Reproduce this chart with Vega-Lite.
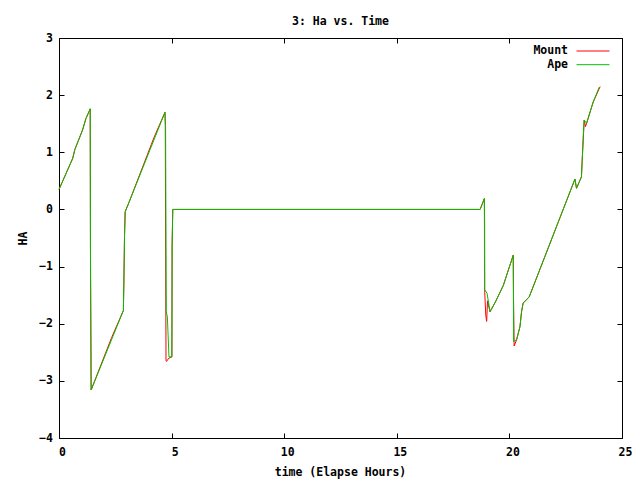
{
  "$schema": "https://vega.github.io/schema/vega-lite/v6.json",
  "width": 563,
  "height": 400,
  "autosize": {"type": "none"},
  "padding": {"left": 59, "top": 38, "right": 18, "bottom": 42},
  "background": "white",
  "title": {
    "text": "3: Ha vs. Time",
    "anchor": "middle",
    "frame": "group",
    "offset": -4,
    "baseline": "alphabetic",
    "font": "DejaVu Sans Mono",
    "fontSize": 11.5,
    "fontWeight": "bold",
    "color": "black"
  },
  "config": {
    "view": {"stroke": "black", "strokeWidth": 1},
    "axis": {
      "domain": false,
      "grid": false,
      "ticks": true,
      "tickSize": -5,
      "tickColor": "black",
      "tickWidth": 1,
      "labelFlush": false,
      "labelFont": "DejaVu Sans Mono",
      "labelFontSize": 11.5,
      "labelFontWeight": "bold",
      "labelColor": "black",
      "titleFont": "DejaVu Sans Mono",
      "titleFontSize": 11.5,
      "titleFontWeight": "bold",
      "titleColor": "black"
    },
    "legend": {
      "labelFont": "DejaVu Sans Mono",
      "labelFontSize": 11.5,
      "labelFontWeight": "bold",
      "labelColor": "black"
    }
  },
  "datasets": {
    "ha": [
      {"series": "Mount", "i": 0, "t": 0, "ha": 0.35},
      {"series": "Mount", "i": 1, "t": 0.605, "ha": 0.89},
      {"series": "Mount", "i": 2, "t": 0.705, "ha": 1.05},
      {"series": "Mount", "i": 3, "t": 1.046, "ha": 1.39},
      {"series": "Mount", "i": 4, "t": 1.196, "ha": 1.59},
      {"series": "Mount", "i": 5, "t": 1.386, "ha": 1.76},
      {"series": "Mount", "i": 6, "t": 1.397, "ha": -0.7},
      {"series": "Mount", "i": 7, "t": 1.427, "ha": -3.16},
      {"series": "Mount", "i": 8, "t": 2.339, "ha": -2.24},
      {"series": "Mount", "i": 9, "t": 2.859, "ha": -1.77},
      {"series": "Mount", "i": 10, "t": 2.879, "ha": -1.32},
      {"series": "Mount", "i": 11, "t": 2.909, "ha": -0.48},
      {"series": "Mount", "i": 12, "t": 2.939, "ha": -0.04},
      {"series": "Mount", "i": 13, "t": 3.12, "ha": 0.135},
      {"series": "Mount", "i": 14, "t": 4.22, "ha": 1.26},
      {"series": "Mount", "i": 15, "t": 4.706, "ha": 1.7},
      {"series": "Mount", "i": 16, "t": 4.72, "ha": 1.46},
      {"series": "Mount", "i": 17, "t": 4.74, "ha": -1.2},
      {"series": "Mount", "i": 18, "t": 4.752, "ha": -2.64},
      {"series": "Mount", "i": 19, "t": 4.772, "ha": -2.66},
      {"series": "Mount", "i": 20, "t": 4.883, "ha": -2.6},
      {"series": "Mount", "i": 21, "t": 5.013, "ha": -2.58},
      {"series": "Mount", "i": 22, "t": 5.023, "ha": -0.62},
      {"series": "Mount", "i": 23, "t": 5.053, "ha": 0.0},
      {"series": "Mount", "i": 24, "t": 18.7, "ha": 0.0},
      {"series": "Mount", "i": 25, "t": 18.888, "ha": 0.19},
      {"series": "Mount", "i": 26, "t": 18.9, "ha": -0.25},
      {"series": "Mount", "i": 27, "t": 18.905, "ha": -1.45},
      {"series": "Mount", "i": 28, "t": 18.95, "ha": -1.85},
      {"series": "Mount", "i": 29, "t": 18.99, "ha": -1.96},
      {"series": "Mount", "i": 30, "t": 19.03, "ha": -1.6},
      {"series": "Mount", "i": 31, "t": 19.138, "ha": -1.79},
      {"series": "Mount", "i": 32, "t": 19.379, "ha": -1.62},
      {"series": "Mount", "i": 33, "t": 19.73, "ha": -1.33},
      {"series": "Mount", "i": 34, "t": 20.17, "ha": -0.8},
      {"series": "Mount", "i": 35, "t": 20.18, "ha": -1.45},
      {"series": "Mount", "i": 36, "t": 20.2, "ha": -2.05},
      {"series": "Mount", "i": 37, "t": 20.21, "ha": -2.39},
      {"series": "Mount", "i": 38, "t": 20.32, "ha": -2.28},
      {"series": "Mount", "i": 39, "t": 20.47, "ha": -2.05},
      {"series": "Mount", "i": 40, "t": 20.54, "ha": -1.79},
      {"series": "Mount", "i": 41, "t": 20.61, "ha": -1.64},
      {"series": "Mount", "i": 42, "t": 20.88, "ha": -1.53},
      {"series": "Mount", "i": 43, "t": 22.91, "ha": 0.53},
      {"series": "Mount", "i": 44, "t": 22.98, "ha": 0.37},
      {"series": "Mount", "i": 45, "t": 23.2, "ha": 0.57},
      {"series": "Mount", "i": 46, "t": 23.23, "ha": 0.84},
      {"series": "Mount", "i": 47, "t": 23.28, "ha": 1.22},
      {"series": "Mount", "i": 48, "t": 23.32, "ha": 1.56},
      {"series": "Mount", "i": 49, "t": 23.38, "ha": 1.45},
      {"series": "Mount", "i": 50, "t": 23.43, "ha": 1.51},
      {"series": "Mount", "i": 51, "t": 23.72, "ha": 1.88},
      {"series": "Mount", "i": 52, "t": 24.03, "ha": 2.15},
      {"series": "Ape", "i": 0, "t": 0, "ha": 0.35},
      {"series": "Ape", "i": 1, "t": 0.605, "ha": 0.89},
      {"series": "Ape", "i": 2, "t": 0.705, "ha": 1.05},
      {"series": "Ape", "i": 3, "t": 1.046, "ha": 1.39},
      {"series": "Ape", "i": 4, "t": 1.196, "ha": 1.59},
      {"series": "Ape", "i": 5, "t": 1.386, "ha": 1.76},
      {"series": "Ape", "i": 6, "t": 1.397, "ha": -0.7},
      {"series": "Ape", "i": 7, "t": 1.427, "ha": -3.16},
      {"series": "Ape", "i": 8, "t": 2.859, "ha": -1.77},
      {"series": "Ape", "i": 9, "t": 2.879, "ha": -1.32},
      {"series": "Ape", "i": 10, "t": 2.909, "ha": -0.48},
      {"series": "Ape", "i": 11, "t": 2.939, "ha": -0.04},
      {"series": "Ape", "i": 12, "t": 3.12, "ha": 0.135},
      {"series": "Ape", "i": 13, "t": 4.706, "ha": 1.7},
      {"series": "Ape", "i": 14, "t": 4.732, "ha": 1.45},
      {"series": "Ape", "i": 15, "t": 4.762, "ha": -1.79},
      {"series": "Ape", "i": 16, "t": 4.812, "ha": -1.88},
      {"series": "Ape", "i": 17, "t": 4.883, "ha": -2.58},
      {"series": "Ape", "i": 18, "t": 5.013, "ha": -2.58},
      {"series": "Ape", "i": 19, "t": 5.023, "ha": -0.62},
      {"series": "Ape", "i": 20, "t": 5.053, "ha": 0.0},
      {"series": "Ape", "i": 21, "t": 18.7, "ha": 0.0},
      {"series": "Ape", "i": 22, "t": 18.888, "ha": 0.19},
      {"series": "Ape", "i": 23, "t": 18.898, "ha": -1.4},
      {"series": "Ape", "i": 24, "t": 19.009, "ha": -1.47},
      {"series": "Ape", "i": 25, "t": 19.138, "ha": -1.79},
      {"series": "Ape", "i": 26, "t": 19.379, "ha": -1.62},
      {"series": "Ape", "i": 27, "t": 19.73, "ha": -1.33},
      {"series": "Ape", "i": 28, "t": 20.17, "ha": -0.8},
      {"series": "Ape", "i": 29, "t": 20.19, "ha": -2.31},
      {"series": "Ape", "i": 30, "t": 20.32, "ha": -2.28},
      {"series": "Ape", "i": 31, "t": 20.47, "ha": -2.05},
      {"series": "Ape", "i": 32, "t": 20.54, "ha": -1.79},
      {"series": "Ape", "i": 33, "t": 20.61, "ha": -1.64},
      {"series": "Ape", "i": 34, "t": 20.88, "ha": -1.53},
      {"series": "Ape", "i": 35, "t": 22.91, "ha": 0.53},
      {"series": "Ape", "i": 36, "t": 22.98, "ha": 0.37},
      {"series": "Ape", "i": 37, "t": 23.2, "ha": 0.57},
      {"series": "Ape", "i": 38, "t": 23.23, "ha": 0.84},
      {"series": "Ape", "i": 39, "t": 23.28, "ha": 1.3},
      {"series": "Ape", "i": 40, "t": 23.32, "ha": 1.56},
      {"series": "Ape", "i": 41, "t": 23.43, "ha": 1.51},
      {"series": "Ape", "i": 42, "t": 23.72, "ha": 1.88},
      {"series": "Ape", "i": 43, "t": 23.99, "ha": 2.14}
    ]
  },
  "data": {"name": "ha"},
  "layer": [
    {
      "transform": [{"filter": "datum.series === 'Mount'"}],
      "mark": {"type": "line", "strokeWidth": 1},
      "encoding": {
        "x": {
          "field": "t", "type": "quantitative",
          "scale": {"domain": [0, 25], "nice": false, "zero": false},
          "axis": {
            "orient": "bottom",
            "values": [0, 5, 10, 15, 20, 25],
            "labelPadding": 13,
            "labelOffset": 3,
            "title": "time (Elapse Hours)",
            "titleX": 281,
            "titleY": 34,
            "titleBaseline": "middle",
            "titleAlign": "center"
          }
        },
        "y": {
          "field": "ha", "type": "quantitative",
          "scale": {"domain": [-4, 3], "nice": false, "zero": false},
          "axis": {
            "orient": "left",
            "values": [-4, -3, -2, -1, 0, 1, 2, 3],
            "labelPadding": 11.5,
            "title": "HA",
            "titleX": -36,
            "titleY": 200,
            "titleAngle": -90,
            "titleBaseline": "middle",
            "titleAlign": "center"
          }
        },
        "color": {
          "field": "series", "type": "nominal",
          "scale": {"domain": ["Mount", "Ape"], "range": ["#ff0000", "#00c000"]},
          "legend": {
            "title": null,
            "orient": "none",
            "legendX": 528,
            "legendY": 7,
            "direction": "vertical",
            "symbolType": "M-3,0H3",
            "symbolSize": 121,
            "symbolStrokeWidth": 1,
            "labelAlign": "right",
            "labelOffset": -31,
            "rowPadding": 1.7,
            "padding": 0
          }
        },
        "order": {"field": "i", "type": "quantitative"}
      }
    },
    {
      "transform": [{"filter": "datum.series === 'Ape'"}],
      "mark": {"type": "line", "strokeWidth": 1},
      "encoding": {
        "x": {
          "field": "t", "type": "quantitative",
          "axis": {"orient": "top", "values": [0, 5, 10, 15, 20, 25], "labels": false, "title": null}
        },
        "y": {
          "field": "ha", "type": "quantitative",
          "axis": {"orient": "right", "values": [-4, -3, -2, -1, 0, 1, 2, 3], "labels": false, "title": null}
        },
        "color": {"field": "series", "type": "nominal"},
        "order": {"field": "i", "type": "quantitative"}
      }
    }
  ],
  "resolve": {"axis": {"x": "independent", "y": "independent"}}
}
